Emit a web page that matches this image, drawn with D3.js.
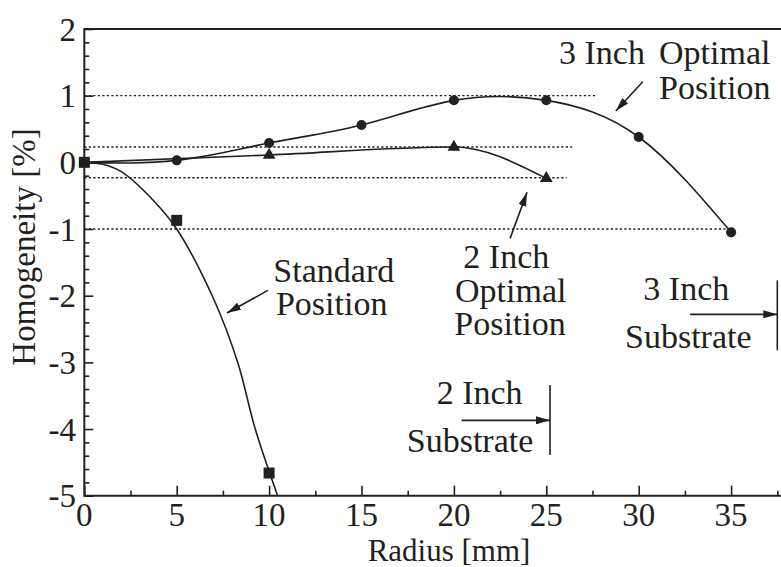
<!DOCTYPE html>
<html>
<head>
<meta charset="utf-8">
<script src="https://cdn.jsdelivr.net/npm/d3@7"></script>
<style>
    body { margin: 0; background: #fff; }
    svg { display: block; }
    text { font-family: "Liberation Serif", "Times New Roman", serif; fill: #231f20; }
</style>
</head>
<body>
<svg id="chart" width="781" height="567"></svg>
<script>
// Measured points (Radius in mm, Homogeneity in %)
const radius3 = [0, 5, 10, 15, 20, 25, 30, 35];
const homog3 = [0, 0.03, 0.29, 0.56, 0.93, 0.93, 0.38, -1.05];

const radius2 = [0, 10, 20, 25];
const homog2 = [0, 0.11, 0.23, -0.24];

const radiusStd = [0, 5, 10];
const homogStd = [0, -0.87, -4.66];

// Fitted curve of the standard position
const fitStdX = [0, 1, 2, 3.7, 5, 7, 8.3, 9.25, 10.46];
const fitStdY = [0, -0.03, -0.14, -0.56, -1.0, -2.05, -3.0, -4.0, -5.0];

// Dotted reference levels and how far they run
const refLevels = [1, 0.23, -0.23, -1];
const refEnds = [27.7, 26.4, 26.1, 35];

const xTicks = [0, 5, 10, 15, 20, 25, 30, 35];
const yTicks = [2, 1, 0, -1, -2, -3, -4, -5];

const ink = "#231f20";
const svg = d3.select("#chart");

// Plot area
const plotLeft = 84.3, plotRight = 781, plotTop = 29, plotBottom = 495.7;
const x = d3.scaleLinear().domain([0, 37.7]).range([plotLeft, plotRight]);
const y = d3.scaleLinear().domain([-5, 2]).range([plotBottom, plotTop]);

// Arrow head marker
svg.append("defs").append("marker")
    .attr("id", "head")
    .attr("viewBox", "0 0 14 8")
    .attr("refX", 14).attr("refY", 4)
    .attr("markerWidth", 14).attr("markerHeight", 8)
    .attr("markerUnits", "userSpaceOnUse")
    .attr("orient", "auto")
    .append("path").attr("d", "M0,0 L14,4 L0,8 Z").attr("fill", ink);

svg.append("clipPath").attr("id", "plot-clip")
    .append("rect").attr("x", plotLeft).attr("y", plotTop)
    .attr("width", plotRight - plotLeft).attr("height", plotBottom - plotTop);

// Dotted reference lines
svg.append("g").selectAll("line")
    .data(refLevels)
    .join("line")
    .attr("x1", x(0)).attr("x2", (d, i) => x(refEnds[i]))
    .attr("y1", d => y(d)).attr("y2", d => y(d))
    .attr("stroke", ink).attr("stroke-width", 1.4)
    .attr("stroke-dasharray", "2.2,2.3");

// Axes: ticks inside the plot
const xAxis = d3.axisTop(x).tickValues(d3.range(0, 37.6, 2.5)).tickSize(0).tickFormat("");
svg.append("g").attr("transform", `translate(0,${plotBottom})`).call(xAxis)
    .call(g => g.select(".domain").remove())
    .selectAll(".tick line")
    .attr("y2", d => d % 5 === 0 ? -10 : -5)
    .attr("stroke", ink).attr("stroke-width", 1.6);

const yAxis = d3.axisRight(y).tickValues(d3.range(-5, 2.01, 0.2)).tickSize(0).tickFormat("");
svg.append("g").attr("transform", `translate(${plotLeft},0)`).call(yAxis)
    .call(g => g.select(".domain").remove())
    .selectAll(".tick line")
    .attr("x2", d => Math.abs(d - Math.round(d)) < 1e-6 ? 9 : 5)
    .attr("stroke", ink).attr("stroke-width", 1.6);

// Frame: left, bottom, top
svg.append("path")
    .attr("d", `M${plotRight},${plotTop} H${plotLeft} V${plotBottom} H${plotRight}`)
    .attr("fill", "none").attr("stroke", ink).attr("stroke-width", 2);

// Tick labels
svg.append("g").selectAll("text")
    .data(xTicks)
    .join("text")
    .attr("x", d => x(d)).attr("y", 526)
    .attr("text-anchor", "middle")
    .attr("font-size", 33)
    .text(d => d);

svg.append("g").selectAll("text")
    .data(yTicks)
    .join("text")
    .attr("x", 76).attr("y", d => y(d))
    .attr("dy", "0.35em")
    .attr("text-anchor", "end")
    .attr("font-size", 33)
    .text(d => d);

// Axis titles
svg.append("text")
    .attr("x", 449).attr("y", 561)
    .attr("text-anchor", "middle")
    .attr("font-size", 31)
    .text("Radius [mm]");

svg.append("text")
    .attr("transform", "translate(35,247) rotate(-90)")
    .attr("text-anchor", "middle")
    .attr("font-size", 33)
    .text("Homogeneity [%]");

// Curves
const curves = svg.append("g").attr("clip-path", "url(#plot-clip)")
    .attr("fill", "none").attr("stroke", ink).attr("stroke-width", 1.6);

const natural = d3.line().x(d => x(d[0])).y(d => y(d[1])).curve(d3.curveNatural);
const monotone = d3.line().x(d => x(d[0])).y(d => y(d[1])).curve(d3.curveMonotoneX);
const smooth = d3.line().x(d => x(d[0])).y(d => y(d[1])).curve(d3.curveCatmullRom.alpha(0.5));

curves.append("path").attr("d", natural(d3.zip(radius3, homog3)));
curves.append("path").attr("d", monotone(d3.zip(radius2, homog2)));
curves.append("path").attr("d", smooth(d3.zip(fitStdX, fitStdY)));

// Markers
svg.append("g").selectAll("circle")
    .data(d3.zip(radius3, homog3).slice(1))
    .join("circle")
    .attr("cx", d => x(d[0])).attr("cy", d => y(d[1]))
    .attr("r", 5).attr("fill", ink);

svg.append("g").selectAll("path")
    .data(d3.zip(radius2, homog2).slice(1))
    .join("path")
    .attr("transform", d => `translate(${x(d[0])},${y(d[1])})`)
    .attr("d", d3.symbol(d3.symbolTriangle, 70))
    .attr("fill", ink);

svg.append("g").selectAll("rect")
    .data(d3.zip(radiusStd, homogStd))
    .join("rect")
    .attr("x", d => x(d[0]) - 5.5).attr("y", d => y(d[1]) - 5.5)
    .attr("width", 11).attr("height", 11)
    .attr("fill", ink);

// Annotations (positions in data units)
function label(lines) {
    lines.forEach(function (l) {
        svg.append("text")
            .attr("x", x(l[1])).attr("y", y(l[2]))
            .attr("font-size", 34)
            .text(l[0]);
    });
}

function arrow(x1, y1, x2, y2) {
    svg.append("line")
        .attr("x1", x(x1)).attr("y1", y(y1))
        .attr("x2", x(x2)).attr("y2", y(y2))
        .attr("stroke", ink).attr("stroke-width", 1.6)
        .attr("marker-end", "url(#head)");
}

function edge(xv, y1, y2) {
    svg.append("line")
        .attr("x1", x(xv)).attr("x2", x(xv))
        .attr("y1", y(y1)).attr("y2", y(y2))
        .attr("stroke", ink).attr("stroke-width", 1.6);
}

label([["3 Inch", 25.69, 1.47], ["Optimal", 31.1, 1.47], ["Position", 31.1, 0.95]]);
arrow(30.22, 1.21, 28.76, 0.77);

label([["Standard", 10.23, -1.79], ["Position", 10.37, -2.29]]);
arrow(9.94, -1.92, 7.72, -2.26);

label([["2 Inch", 20.51, -1.59], ["Optimal", 20.06, -2.09], ["Position", 20.02, -2.59]]);
arrow(23.04, -1.14, 23.96, -0.45);

label([["3 Inch", 30.25, -2.06], ["Substrate", 29.26, -2.79]]);
arrow(32.78, -2.28, 37.5, -2.28);
edge(37.5, -1.77, -2.82);

label([["2 Inch", 19.07, -3.62], ["Substrate", 17.45, -4.34]]);
arrow(20.42, -3.87, 25.2, -3.87);
edge(25.2, -3.34, -4.39);
</script>
</body>
</html>
